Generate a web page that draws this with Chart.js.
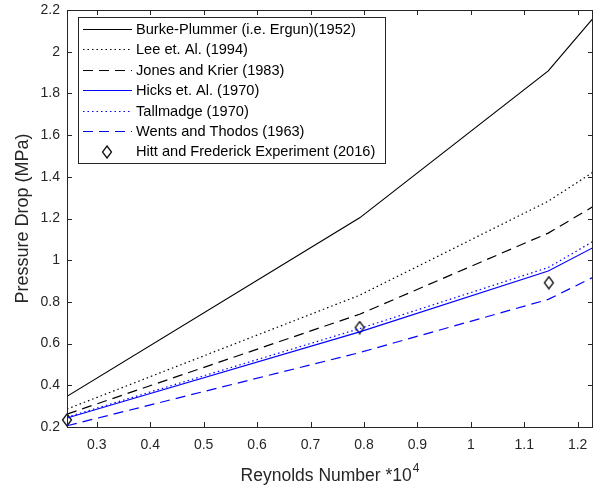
<!DOCTYPE html>
<html>
<head>
<meta charset="utf-8">
<script src="https://cdn.jsdelivr.net/npm/chart.js@4.4.0/dist/chart.umd.min.js"></script>
<style>
  html, body { margin: 0; padding: 0; background: #fff; overflow: hidden; }
  #wrap { width: 593px; height: 488px; }
</style>
</head>
<body>
<div id="wrap"><canvas id="dropChart"></canvas></div>
<script>
// Reynolds number (*10^4) where each correlation was evaluated
const reynolds = [0.2442, 0.792, 1.145, 1.2287];

// pressure drop (MPa) per correlation
const burkePlummer = [0.347, 1.203, 1.908, 2.16];
const leeEtAl = [0.286, 0.832, 1.283, 1.422];
const jonesKrier = [0.262, 0.741, 1.13, 1.257];
const hicksEtAl = [0.243, 0.656, 0.948, 1.06];
const tallmadge = [0.247, 0.672, 0.965, 1.09];
const wentsThodos = [0.206, 0.557, 0.812, 0.918];

// experiment points
const expReynolds = [0.2442, 0.792, 1.146];
const expDrop = [0.234, 0.677, 0.892];

const xTicks = [0.3, 0.4, 0.5, 0.6, 0.7, 0.8, 0.9, 1, 1.1, 1.2];
const yTicks = [0.2, 0.4, 0.6, 0.8, 1, 1.2, 1.4, 1.6, 1.8, 2, 2.2];

const FONT = "'Liberation Sans', Arial, sans-serif";
const AXIS = "#262626";
const BLACK = "#000000";
const BLUE = "#0000ff";
const DOTS = [1.5, 3];
const DASHES = [10, 6];

const toPoints = (xs, ys) => xs.map((x, i) => ({ x: x, y: ys[i] }));

// tall open diamond, like the matlab marker
function diamond() {
  const c = document.createElement("canvas");
  c.width = 12;
  c.height = 14;
  const g = c.getContext("2d");
  g.strokeStyle = "#111";
  g.lineWidth = 1.3;
  g.beginPath();
  g.moveTo(6, 1);
  g.lineTo(10.5, 7);
  g.lineTo(6, 13);
  g.lineTo(1.5, 7);
  g.closePath();
  g.stroke();
  return c;
}
const diamondMark = diamond();

// label, values, colour, dash
const series = [
  ["Burke-Plummer (i.e. Ergun)(1952)", burkePlummer, BLACK, []],
  ["Lee et. Al. (1994)", leeEtAl, BLACK, DOTS],
  ["Jones and Krier (1983)", jonesKrier, BLACK, DASHES],
  ["Hicks et. Al. (1970)", hicksEtAl, BLUE, []],
  ["Tallmadge (1970)", tallmadge, BLUE, DOTS],
  ["Wents and Thodos (1963)", wentsThodos, BLUE, DASHES],
];
const expLabel = "Hitt and Frederick Experiment (2016)";

const datasets = series.map(([label, values, color, dash]) => ({
  label: label,
  data: toPoints(reynolds, values),
  borderColor: color,
  backgroundColor: color,
  borderWidth: 1.2,
  borderDash: dash,
  pointRadius: 0,
  showLine: true,
  fill: false,
  tension: 0,
}));
datasets.push({
  label: expLabel,
  data: toPoints(expReynolds, expDrop),
  showLine: false,
  pointStyle: diamondMark,
  pointRadius: 6,
  clip: false,
});

// box round the plot with inward ticks, plus the x title with its superscript
const boxPlugin = {
  id: "box",
  afterDatasetsDraw(chart) {
    const { ctx, chartArea: a, scales } = chart;
    const tick = 5;
    ctx.save();
    ctx.strokeStyle = AXIS;
    ctx.lineWidth = 1;
    ctx.beginPath();
    scales.x.ticks.forEach((t) => {
      const px = Math.round(scales.x.getPixelForValue(t.value)) + 0.5;
      ctx.moveTo(px, a.bottom);
      ctx.lineTo(px, a.bottom - tick);
      ctx.moveTo(px, a.top);
      ctx.lineTo(px, a.top + tick);
    });
    scales.y.ticks.forEach((t) => {
      const py = Math.round(scales.y.getPixelForValue(t.value)) + 0.5;
      ctx.moveTo(a.left, py);
      ctx.lineTo(a.left + tick, py);
      ctx.moveTo(a.right, py);
      ctx.lineTo(a.right - tick, py);
    });
    ctx.stroke();
    ctx.strokeRect(Math.round(a.left) + 0.5, Math.round(a.top) + 0.5,
      Math.round(a.right - a.left) - 1, Math.round(a.bottom - a.top));

    // x axis title
    const main = "Reynolds Number *10";
    const sup = "4";
    ctx.fillStyle = AXIS;
    ctx.textBaseline = "alphabetic";
    ctx.font = "17.5px " + FONT;
    const w1 = ctx.measureText(main).width;
    ctx.font = "12px " + FONT;
    const w2 = ctx.measureText(sup).width;
    const x0 = (a.left + a.right) / 2 - (w1 + w2 + 1) / 2;
    ctx.font = "17.5px " + FONT;
    ctx.fillText(main, x0, 481);
    ctx.font = "12px " + FONT;
    ctx.fillText(sup, x0 + w1 + 1, 472);
    ctx.restore();
  },
};

// legend sample line, dash pattern walked by hand
function sampleLine(ctx, x1, x2, y, dash) {
  ctx.beginPath();
  if (!dash.length) {
    ctx.moveTo(x1, y);
    ctx.lineTo(x2, y);
  } else {
    let x = x1, k = 0;
    while (x < x2) {
      const len = dash[k % dash.length];
      if (k % 2 === 0) {
        ctx.moveTo(x, y);
        ctx.lineTo(Math.min(x + len, x2), y);
      }
      x += len;
      k++;
    }
  }
  ctx.stroke();
}

// legend box inside the plot
const legendPlugin = {
  id: "insideLegend",
  afterDraw(chart) {
    const { ctx } = chart;
    const left = 78, top = 17, width = 307, height = 146;
    const rowH = 20.4;
    const rowY = (i) => Math.round(top + 12 + i * rowH) + 0.5;
    ctx.save();
    ctx.setLineDash([]);
    ctx.fillStyle = "#ffffff";
    ctx.fillRect(left, top, width, height);
    ctx.strokeStyle = AXIS;
    ctx.lineWidth = 1;
    ctx.strokeRect(left + 0.5, top + 0.5, width, height);
    ctx.font = "14.6px " + FONT;
    ctx.textBaseline = "middle";
    series.forEach(([label, , color, dash], i) => {
      const y = rowY(i);
      ctx.strokeStyle = color;
      ctx.lineWidth = 1.2;
      sampleLine(ctx, 83, 132, y, dash);
      ctx.fillStyle = BLACK;
      ctx.fillText(label, 136, y);
    });
    const ye = rowY(series.length);
    ctx.drawImage(diamondMark, 101, Math.round(ye - 7));
    ctx.fillStyle = BLACK;
    ctx.fillText(expLabel, 136, ye);
    ctx.restore();
  },
};

const fmt = (v) => String(Number(v.toFixed(2)));

new Chart(document.getElementById("dropChart"), {
  type: "scatter",
  data: { datasets: datasets },
  options: {
    responsive: true,
    maintainAspectRatio: false,
    animation: false,
    events: [],
    layout: { autoPadding: false, padding: { top: 10, right: 0, bottom: 0, left: 0 } },
    plugins: {
      legend: { display: false },
      tooltip: { enabled: false },
    },
    scales: {
      x: {
        type: "linear",
        min: reynolds[0],
        max: reynolds[reynolds.length - 1],
        afterBuildTicks: (s) => { s.ticks = xTicks.map((v) => ({ value: v })); },
        afterFit: (s) => { s.height = 61; s.paddingLeft = 0; s.paddingRight = 0; },
        grid: { display: false, drawTicks: true, tickLength: 10 },
        border: { display: false },
        ticks: {
          autoSkip: false,
          maxRotation: 0,
          padding: 0,
          color: AXIS,
          font: { family: FONT, size: 14 },
          callback: (v) => fmt(v),
        },
        title: { display: false },
      },
      y: {
        type: "linear",
        min: yTicks[0],
        max: yTicks[yTicks.length - 1],
        afterBuildTicks: (s) => { s.ticks = yTicks.map((v) => ({ value: v })); },
        afterFit: (s) => { s.width = 67; s.paddingTop = 0; s.paddingBottom = 0; },
        grid: { display: false, drawTicks: false },
        border: { display: false },
        ticks: {
          autoSkip: false,
          padding: 7,
          color: AXIS,
          font: { family: FONT, size: 14 },
          callback: (v) => fmt(v),
        },
        title: {
          display: true,
          text: "Pressure Drop (MPa)",
          color: AXIS,
          font: { family: FONT, size: 18 },
          padding: { top: 12, bottom: 0 },
        },
      },
    },
  },
  plugins: [boxPlugin, legendPlugin],
});
</script>
</body>
</html>
